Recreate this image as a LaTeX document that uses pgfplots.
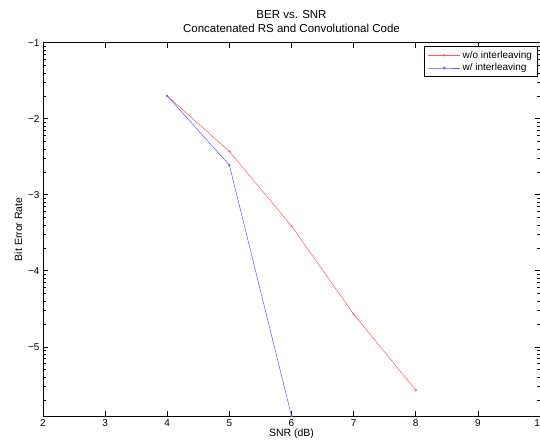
\documentclass[border=0pt]{standalone}
\usepackage{fontspec}
\setmainfont{Liberation Sans}
\usepackage{pgfplots}
\pgfplotsset{compat=1.18}
\definecolor{berred}{RGB}{255,90,90}
\definecolor{berblue}{RGB}{90,90,255}
\begin{document}
\fontsize{10}{12}\selectfont
\begin{tikzpicture}
\useasboundingbox (0,0) rectangle (540pt,447pt);
\begin{axis}[
  at={(43pt,31pt)}, anchor=south west,
  scale only axis, width=497pt, height=373.3pt,
  xmin=2, xmax=10, ymin=-5.91, ymax=-1,
  xtick={2,3,4,5,6,7,8,9,10},
  ytick={-5,-4,-3,-2,-1},
  yticklabels={−5,−4,−3,−2,−1},
  minor ytick={-5.699,-5.523,-5.398,-5.301,-5.222,-5.155,-5.097,-5.046,
               -4.699,-4.523,-4.398,-4.301,-4.222,-4.155,-4.097,-4.046,
               -3.699,-3.523,-3.398,-3.301,-3.222,-3.155,-3.097,-3.046,
               -2.699,-2.523,-2.398,-2.301,-2.222,-2.155,-2.097,-2.046,
               -1.699,-1.523,-1.398,-1.301,-1.222,-1.155,-1.097,-1.046},
  tick align=inside, major tick length=5pt, minor tick length=3pt,
  every tick/.style={black, line width=0.6pt},
  axis line style={line width=0.9pt},
  /pgf/number format/assume math mode=true,
  tick label style={font=\fontsize{10}{12}\selectfont},
  label style={font=\fontsize{10.5}{12}\selectfont},
  title style={align=center, font=\fontsize{11.5}{14}\selectfont, yshift=1pt},
  title={BER vs. SNR\\Concatenated RS and Convolutional Code},
  xlabel={SNR (dB)}, ylabel={Bit Error Rate},
  xlabel style={yshift=5pt}, ylabel style={yshift=-1pt},
  legend style={at={(0.995,0.99)}, anchor=north east, draw=black,
    line width=0.9pt, font=\fontsize{10}{12}\selectfont,
    inner xsep=3pt, inner ysep=2pt, row sep=0pt},
  legend image code/.code={
    \draw[mark repeat=2, mark phase=2, #1, line width=0.8pt]
      plot coordinates {(0pt,0pt) (16pt,0pt) (32pt,0pt)};},
  legend cell align=left,
  clip=false,
]
\addplot[berred, line width=0.5pt, mark=*, mark size=0.8pt]
  coordinates {(4,-1.70) (5,-2.43) (6,-3.41) (7,-4.57) (8,-5.57)};
\addlegendentry{w/o interleaving}
\addplot[berblue, line width=0.5pt, mark=*, mark size=0.8pt]
  coordinates {(4,-1.70) (5,-2.61) (6,-5.91)};
\addlegendentry{w/ interleaving}
\end{axis}
\end{tikzpicture}
\end{document}
